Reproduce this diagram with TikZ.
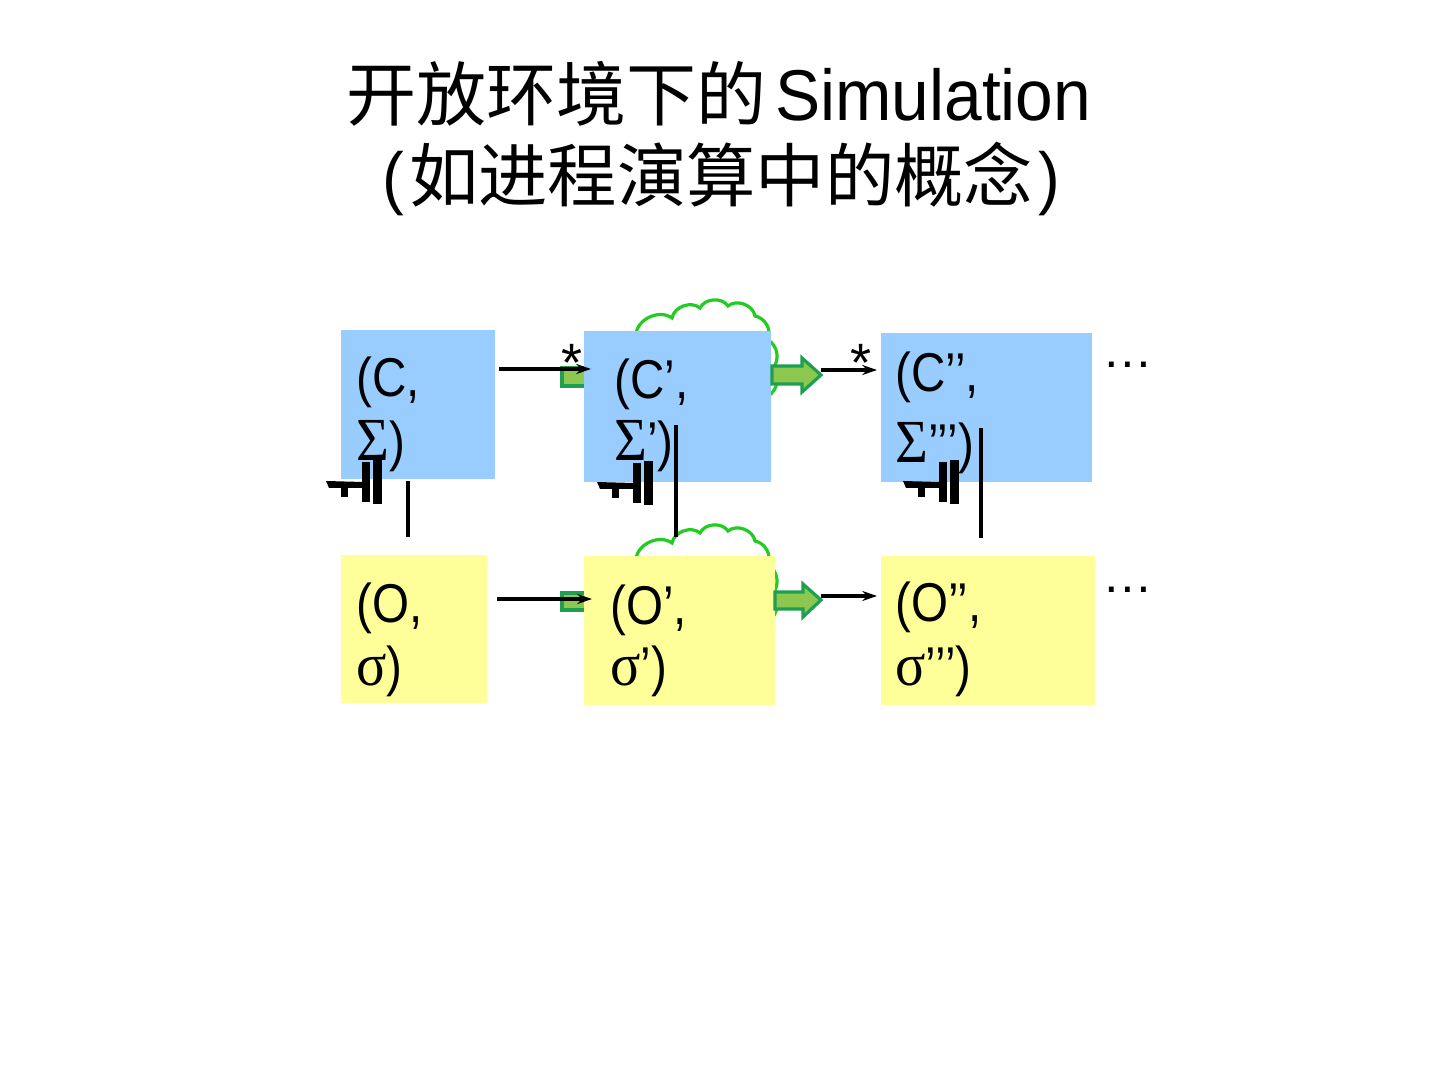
\documentclass[tikz,border=0pt]{standalone}
\usepackage{fontspec}
\setmainfont{Liberation Sans}
\newfontfamily\cjk{Noto Sans CJK SC}
\newfontfamily\titlelat[FakeStretch=0.94]{Liberation Sans}
\newfontfamily\boxfont[FakeStretch=0.87]{Liberation Sans}
\newfontfamily\grk[FakeStretch=0.92,Scale=1.12]{Liberation Serif}
\usetikzlibrary{arrows.meta}
\definecolor{boxblue}{HTML}{99CCFF}
\definecolor{boxyellow}{HTML}{FFFF99}
\definecolor{gfill}{HTML}{8CC850}
\definecolor{gline}{HTML}{1EA050}
\definecolor{cloudg}{HTML}{22CC22}
\begin{document}
\begin{tikzpicture}[x=0.75pt,y=-0.75pt,
  bluebox/.style={fill=boxblue,draw=none,inner sep=0,anchor=north west},
  yelbox/.style={fill=boxyellow,draw=none,inner sep=0,anchor=north west},
  txt/.style={inner sep=0,anchor=base west,font=\boxfont\fontsize{41pt}{48pt}\selectfont},
  startxt/.style={inner sep=0,anchor=base,font=\fontsize{40.5pt}{48pt}\selectfont},
  arr/.style={line width=2.6pt,-{Stealth[length=11pt,width=7.5pt]}},
  vline/.style={line width=2.6pt},
  garrow/.style={fill=gfill,draw=gline,line width=2.4pt,line join=miter},
  cloud/.style={draw=cloudg,line width=2.4pt},
  simglyph/.pic={
    \fill[black] (0,21) -- (37,22) -- (37,28) -- (3,28) -- cycle;
    \fill[black] (15,28) rectangle (22,37);
    \fill[black] (36,2) rectangle (44,42);
    \fill[black] (47,0) rectangle (56,44);
  }]
\fill[white] (0,0) rectangle (1440,1080);
\useasboundingbox (0,0) rectangle (1440,1080);

% title
\node[inner sep=0,anchor=base west,font=\cjk\fontsize{52.5pt}{60pt}\selectfont] (t1a) at (346,121) {开放环境下的};
\node[inner sep=0,anchor=base west,font=\titlelat\fontsize{54pt}{60pt}\selectfont] (t1b) at (775,121) {Simulation};
\node[inner sep=0,anchor=base west,font=\cjk\fontsize{52pt}{60pt}\selectfont] (t2) at (382,202)
  {{\titlelat(}\kern4pt 如进程演算中的概念\kern4pt{\titlelat)}};

% clouds (behind the boxes)
\draw[cloud] (636,334) to[bend left=60] (672,318) to[bend left=60] (700,308) to[bend left=60] (728,306) to[bend left=60] (755,316) to[bend left=50] (768,340) to[bend left=50] (773,368) to[bend left=50] (768,396);
\begin{scope}[shift={(0,225)}]
\draw[cloud] (636,334) to[bend left=60] (672,318) to[bend left=60] (700,308) to[bend left=60] (728,306) to[bend left=60] (755,316) to[bend left=50] (768,340) to[bend left=50] (773,368) to[bend left=50] (768,396);
\end{scope}

% green tails behind middle boxes
\draw[garrow] (562,368) rectangle (600,386);
\draw[garrow] (562,593) rectangle (600,610);

% boxes
\node[bluebox,minimum width={154*0.75pt},minimum height={149*0.75pt}] (c0) at (341,330) {};
\node[bluebox,minimum width={187*0.75pt},minimum height={151*0.75pt}] (c1) at (584,331) {};
\node[bluebox,minimum width={211*0.75pt},minimum height={149*0.75pt}] (c2) at (881,333) {};
\node[yelbox,minimum width={146*0.75pt},minimum height={148*0.75pt}] (o0) at (341,555) {};
\node[yelbox,minimum width={191*0.75pt},minimum height={149*0.75pt}] (o1) at (584,556) {};
\node[yelbox,minimum width={214*0.75pt},minimum height={149*0.75pt}] (o2) at (881,556) {};

% green block arrows
\draw[garrow] (772,366) -- (802,366) -- (802,358) -- (821,375) -- (802,392) -- (802,384) -- (772,384) -- cycle;
\draw[garrow] (775,592) -- (803,592) -- (803,584) -- (821,600) -- (803,617) -- (803,609) -- (775,609) -- cycle;

% black arrows
\coordinate (a0s) at (499,369); \coordinate (a0e) at (591,369);
\coordinate (a1s) at (821,370); \coordinate (a1e) at (877,370);
\coordinate (b0s) at (497,599); \coordinate (b0e) at (592,599);
\coordinate (b1s) at (821,596); \coordinate (b1e) at (877,596);
\draw[arr] (a0s) -- (a0e);
\draw[arr] (a1s) -- (a1e);
\draw[arr] (b0s) -- (b0e);
\draw[arr] (b1s) -- (b1e);
\node[startxt] (s0) at (572,382) {*};
\node[startxt] (s1) at (861,382) {*};

% box texts
\node[txt] (c0a) at (356,397) {(C,};
\node[txt] (c0b) at (356,461) {{\grk Σ})};
\node[txt] (c1a) at (614,399) {(C’,};
\node[txt] (c1b) at (614,461) {{\grk Σ}’)};
\node[txt] (c2a) at (895,392) {(C’’,};
\node[txt] (c2b) at (895,463) {{\grk Σ}’’’)};
\node[txt] (o0a) at (356,623) {(O,};
\node[txt] (o0b) at (356,686) {{\grk σ})};
\node[txt] (o1a) at (610,624) {(O’,};
\node[txt] (o1b) at (610,686) {{\grk σ}’)};
\node[txt] (o2a) at (895,622) {(O’’,};
\node[txt] (o2b) at (895,685) {{\grk σ}’’’)};

% ellipses
\node[inner sep=0,anchor=base west,font=\fontsize{38pt}{44pt}\selectfont] (d1) at (1102,368) {…};
\node[inner sep=0,anchor=base west,font=\fontsize{38pt}{44pt}\selectfont] (d2) at (1102,593) {…};

% simulation glyphs
\pic (g0) at (326,460) {simglyph};
\pic (g1) at (597,461) {simglyph};
\pic (g2) at (903,460) {simglyph};

% vertical relation lines
\coordinate (v0t) at (408,481); \coordinate (v0b) at (408,537);
\coordinate (v1t) at (676,425); \coordinate (v1b) at (676,537);
\coordinate (v2t) at (981,428); \coordinate (v2b) at (981,538);
\draw[vline] (v0t) -- (v0b);
\draw[vline] (v1t) -- (v1b);
\draw[vline] (v2t) -- (v2b);
\end{tikzpicture}
\end{document}
